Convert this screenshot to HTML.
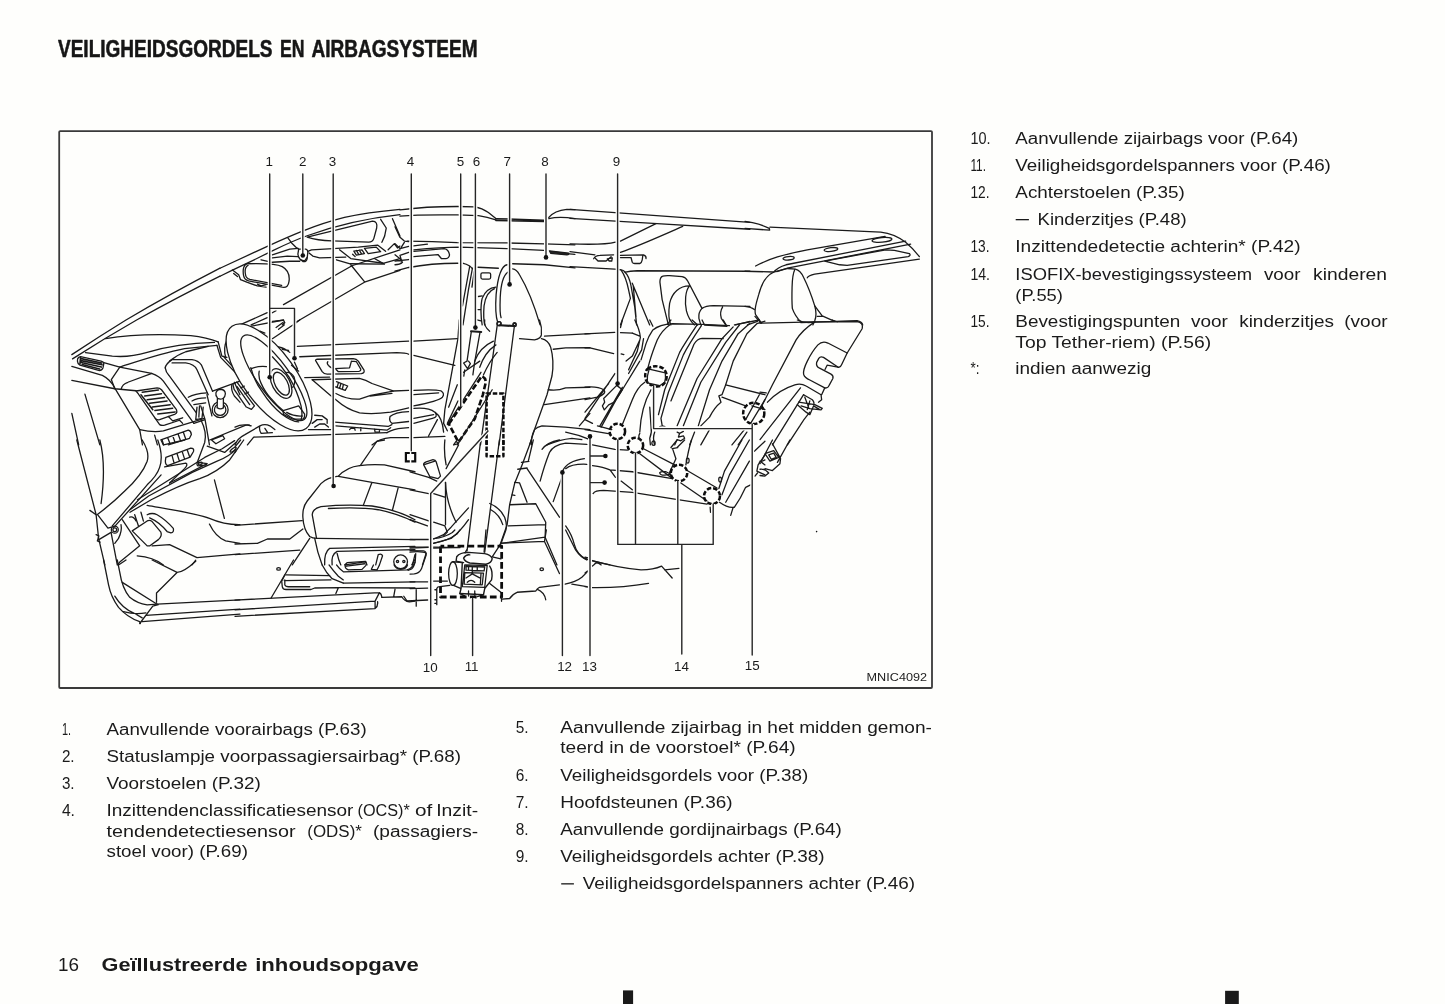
<!DOCTYPE html>
<html><head><meta charset="utf-8"><title>Veiligheidsgordels en airbagsysteem</title>
<style>
html,body{margin:0;padding:0;background:#fefefc;}
body{width:1445px;height:1004px;overflow:hidden;position:relative;font-family:"Liberation Sans",sans-serif;}
svg{position:absolute;left:0;top:0;display:block;will-change:transform}
text{font-family:"Liberation Sans",sans-serif;fill:#1a1a1a}
.b{font-size:15.8px}
.h{font-size:23.3px;font-weight:bold;fill:#161616;stroke:#161616;stroke-width:0.55px;stroke-linejoin:round}
.f{font-size:18.8px}
.fb{font-size:18.8px;font-weight:bold}
.n{font-size:13.4px;fill:#222}
.m{font-size:10.3px;fill:#222}
.d path,.d line,.d polyline,.d circle,.d ellipse,.d rect{fill:none;stroke:#1a1a1a;stroke-width:1.3;stroke-linecap:round;stroke-linejoin:round;vector-effect:non-scaling-stroke}
.d .k path{stroke-width:1.4;stroke:#262626}
.d .dash{stroke-width:2.5;stroke-dasharray:4.5 1.9;stroke-linecap:butt;stroke:#0c0c0c}
.d .dot{fill:#111;stroke:none}
.d .halo path{stroke:#fefefc;stroke-width:4;stroke-linecap:butt}
.d .w{fill:#fefefc}
</style></head><body>
<svg width="1445" height="1004" viewBox="0 0 1445 1004">
<rect x="59.2" y="131.1" width="872.8" height="556.9" rx="1" fill="none" stroke="#3a3a3a" stroke-width="1.8"/>
<rect x="623" y="990.4" width="10.1" height="14" fill="#1a1a1a"/><rect x="1225.1" y="990.8" width="13.7" height="14" fill="#1a1a1a"/>
<rect x="561.2" y="883.2" width="12.7" height="1.3" fill="#1a1a1a"/><rect x="1015.7" y="219" width="13.2" height="1.3" fill="#1a1a1a"/>
<g class="d">
<!-- 10_T1.svg -->
<g transform="translate(220,200) scale(0.12453)">
<path d="M0,548 L380,372 C560,290 760,200 1000,140 C1150,105 1300,88 1445,75"/>
<path d="M0,612 L100,563 L300,468 L420,408 C520,360 620,315 700,287 C900,215 1150,150 1445,118"/>
<path d="M420,440 L560,395 L628,388"/>
<path d="M420,465 L540,450 L625,455"/>
<path d="M330,480 L420,500 L560,492 L640,492"/>
<path d="M545,305 L575,345 L610,380 L632,395"/>
<path d="M632,395 L690,395 Q706,400 705,420 L700,470 Q695,497 668,495 L640,472 Q625,455 626,430 Z"/>
<path d="M645,480 L680,488 L698,462"/>
<path d="M705,412 L735,400 L1110,378 L1265,362 L1330,412"/>
<path d="M715,425 L745,450 L800,465 L1010,458"/>
<path d="M700,298 L1225,170 Q1268,172 1258,225 L1235,310 Q1225,338 1195,338 L900,328 Q780,325 700,298"/>
<path d="M1290,155 L1335,225 L1322,290 L1300,340"/>
<path d="M1385,150 L1445,290"/>
<path d="M1350,400 L1400,350 L1425,385 L1445,370"/>
<path d="M960,400 L1050,470 L1310,508 L1445,470"/>
<path d="M1160,388 L1255,378 L1290,415 L1190,430 Z"/>
<path d="M1075,410 L1140,400 L1160,430 L1095,442 Z M1095,405 L1115,438 M1118,402 L1138,434 M1065,435 L1085,455"/>
<path d="M935,480 L1045,512 L1320,515 L1240,470"/>
<path d="M510,840 L1060,528 L1445,400"/>
<path d="M1050,520 L1160,655"/>
<path d="M615,978 L1160,660 L1445,565"/>
<path d="M160,1003 L380,905 M250,1003 L380,945 M420,905 L450,888 M420,975 L510,965 L520,985 L500,1003"/>
<path d="M215,512 C190,520 180,560 190,610 C195,635 210,645 230,650 L500,700 C535,705 550,690 555,650 C560,600 545,560 500,535 C470,520 430,508 215,512"/>
<path d="M225,525 C205,535 198,565 205,600 C208,625 220,632 240,638 L495,685"/>
<path d="M100,562 L150,600 L165,640 L215,660 L300,690 L370,700 M110,590 L140,615 M300,675 L330,690 L370,680"/>
</g>
<path d="M71.8,354.6 Q100,336 126,320 Q170,294 220,268.2"/>
<path d="M72.5,358.9 Q105,338 136.6,320 Q180,296 220,276.2"/>
<!-- 11_T2.svg -->
<g transform="translate(395,200) scale(0.12453)">
<path d="M40,80 C150,65 350,52 500,52 L640,55 Q700,65 750,100 L810,148"/>
<path d="M810,150 L1195,162 M810,165 L1195,172" style="stroke-width:1.5"/>
<path d="M40,130 C150,120 350,118 500,120 L670,125 Q740,135 810,160"/>
<path d="M1235,140 Q1280,85 1380,75 L1445,78 M1235,150 Q1320,130 1445,150"/>
<path d="M100,330 L300,335 L500,342 L900,345 L1200,352 L1445,360"/>
<path d="M150,368 L260,355 M150,400 C300,385 400,378 520,378 L900,390 L1195,405"/>
<path d="M1240,408 L1395,426 Q1402,438 1380,441 L1250,428 Z" style="fill:#222"/>
<path d="M1400,432 L1445,436"/>
<path d="M150,412 L395,390 Q430,395 438,440 Q435,468 410,470 L372,470 L345,438 L150,455"/>
<path d="M0,215 L40,300 L75,330 L110,335 M75,340 L50,380 M0,350 L40,390 L110,372 M0,440 L50,480 L40,445 L110,420 M0,520 Q40,520 60,500 L40,470 M0,490 L110,478"/>
<path d="M0,572 L110,542 C250,515 400,508 505,508 M548,508 Q600,520 620,550"/>
<path d="M600,532 L542,850 M622,548 L590,720 L546,1003 M636,575 L618,700"/>
<path d="M665,540 L830,548"/>
<rect x="690" y="585" width="78" height="50" rx="12"/>
<path d="M945,553 Q975,555 1000,600 C1060,700 1120,850 1165,1003"/>
<path d="M900,520 C850,530 825,620 812,760 C805,860 810,940 825,985"/>
<path d="M905,580 C865,610 850,680 845,780 C842,860 842,920 852,945"/>
<path d="M945,512 L1200,520 L1445,545"/>
<path d="M810,700 C760,705 720,740 700,790 C685,850 690,950 700,1003 M800,712 C750,730 725,780 715,850 C710,920 715,980 720,1003 M670,775 L700,770 M665,880 L690,880 M650,960 L690,970"/>
<circle cx="835" cy="992" r="15"/><circle cx="960" cy="996" r="12"/>
</g>
<!-- 12_T3.svg -->
<g transform="translate(570,200) scale(0.12453)">
<path d="M0,75 L1445,180"/>
<path d="M0,148 L700,190 L1445,235"/>
<path d="M690,190 L405,330 M905,212 C750,280 550,370 405,420"/>
<path d="M0,352 C150,358 300,356 365,338"/>
<path d="M0,415 L200,440"/>
<path d="M190,472 Q205,445 240,445 L350,440 M205,470 L225,490 L290,490 L330,455 M300,472 L340,465 L335,490 L315,490 Z"/>
<path d="M405,445 L590,440 Q615,450 610,470 M405,462 L490,462 L500,500 Q505,510 520,510 L560,510 Q575,505 580,480 L585,445"/>
<path d="M0,535 L360,555 L405,560 Q430,565 445,580 Q480,570 540,568 L1445,572"/>
<path d="M412,565 Q450,620 470,720 L485,790 L405,1003 M440,578 Q475,610 490,690 L520,860 L535,1003 M500,668 L640,1003 M508,690 L530,940"/>
<path d="M790,1003 L740,800 L722,660 Q722,620 745,612 Q760,605 800,607 L900,615 Q930,620 945,650 L1060,870"/>
<path d="M960,690 C880,690 820,740 800,830 C790,900 790,960 810,1003 M960,690 C925,730 920,820 935,890 C950,950 980,985 1000,1003"/>
<path d="M1050,1003 L1035,950 Q1030,900 1060,870 Q1090,850 1150,848 L1445,855 M1225,860 Q1200,900 1215,950 L1250,1003 M1330,1003 L1445,975"/>
</g>
<!-- 13_T4.svg -->
<g transform="translate(745,200) scale(0.12453)">
<path d="M0,172 L60,182 Q140,200 195,228 L198,242 L0,228"/>
<path d="M200,218 L1090,258 Q1200,270 1290,340 Q1350,390 1400,455"/>
<path d="M85,530 C200,470 300,440 500,400 L1125,292"/>
<path d="M230,580 Q260,540 330,520 L1290,330"/>
<path d="M255,575 L350,545 L1330,355"/>
<ellipse cx="350" cy="468" rx="45" ry="14" transform="rotate(-5 350 468)"/>
<ellipse cx="690" cy="398" rx="55" ry="15" transform="rotate(-6 690 398)"/>
<ellipse cx="1100" cy="320" rx="80" ry="19" transform="rotate(-5 1100 320)"/>
<path d="M640,490 L1130,400 L1200,405 L1320,430 Q1335,445 1310,455 L820,525 L760,520 Z"/>
<path d="M500,625 Q510,605 560,595 L1400,475"/>
<path d="M0,572 L225,578"/>
<path d="M130,985 L85,920 C70,880 90,830 110,760 C130,680 160,610 230,580 L340,550 L405,555 Q445,565 470,620 Q520,720 560,850 Q580,920 560,970 L545,1003"/>
<path d="M400,558 Q380,600 378,700 Q375,800 380,870 Q400,930 450,980"/>
<path d="M560,850 L620,930 L720,975 M580,935 L620,935"/>
<path d="M0,855 Q50,860 75,880 M80,935 L130,990 M450,985 L900,968 Q940,975 945,1003 M20,1003 L100,975"/>
</g>
<!-- 14_T5.svg -->
<g transform="translate(60,320) scale(0.12453)">
<path d="M365,150 C550,118 800,110 1050,125 Q1180,140 1270,175"/>
<path d="M205,262 L420,290 C520,300 600,290 700,260 C850,215 1050,185 1240,180"/>
<path d="M480,378 C600,340 800,270 1000,230 L1260,203"/>
<path d="M150,300 Q138,308 140,330 Q142,355 160,362 L310,405 Q335,408 345,385 L352,350 Q350,335 330,330 L165,295 Z"/>
<path d="M170,310 L335,345 M168,326 L338,360 M170,342 L332,378 M178,358 L318,393 M165,300 L160,355" style="stroke-width:1.6"/>
<path d="M352,342 L480,378 L412,478 L440,552"/>
<path d="M480,378 L735,428 Q800,450 830,490 L1075,830"/>
<path d="M95,372 L340,445 Q410,480 445,555 L640,880 L662,1003"/>
<path d="M95,485 L440,552 L610,568"/>
<path d="M492,552 Q500,515 545,500 L738,428"/>
<path d="M610,570 L780,545 Q800,545 815,560 L935,720 Q945,745 925,755 L800,800 Q780,805 765,790 L640,610 Q625,585 610,570"/>
<path d="M660,580 L790,562 M680,610 L815,592 M700,640 L840,622 M720,668 L860,650 M742,698 L885,680 M762,726 L905,708 M785,755 L925,738 M650,600 L745,720" style="stroke-width:1.5"/>
<path d="M765,790 L800,840 Q815,850 840,845 L960,805 L985,830 M870,775 L905,810 L985,785"/>
<path d="M95,750 L150,1003 M200,595 L320,1003"/>
<path d="M640,880 Q750,905 830,890 L1160,790 M760,925 L782,1003"/>
<path d="M830,1003 L810,962 L1030,885 Q1052,890 1055,920 L1040,950 L870,1003 M865,945 L885,998 M905,930 L925,985 M948,916 L968,970 M990,900 L1010,958"/>
<path d="M845,385 Q850,350 900,318 L1060,318 Q1110,325 1135,360 L1225,572"/>
<path d="M845,385 Q850,420 875,445 L1095,745"/>
<path d="M900,345 L1010,345 Q1080,355 1100,400 L1190,600"/>
<path d="M880,330 Q940,280 1010,255 L1190,212"/>
<path d="M1030,620 Q1080,590 1180,585 M1060,650 Q1100,625 1170,625 M1075,680 L1170,665 M1100,700 L1090,800 L1140,790 L1150,700 M1120,690 L1115,780"/>
<path d="M1075,830 L1165,800 L1130,690 M1165,800 L1200,1003"/>
<circle cx="1286" cy="720" r="64"/><circle cx="1286" cy="720" r="46"/>
<path d="M1262,705 L1264,625 Q1248,608 1252,585 Q1262,556 1292,556 Q1326,560 1328,592 Q1326,615 1312,628 L1312,705" class="w"/>
<path d="M1264,705 Q1288,722 1312,705 M1270,632 Q1290,640 1308,630"/>
<path d="M1180,600 L1220,770 M1225,572 L1445,490"/>
<path d="M1270,175 L1300,290 L1340,300 M1260,203 L1290,300 L1445,460 M1310,290 L1445,440"/>
<path d="M1340,160 Q1360,80 1445,45 M1330,300 Q1310,220 1340,160"/>

<path d="M1380,520 Q1370,560 1400,610 L1445,660 M1400,500 L1445,600"/>
</g>
<!-- 15_T6.svg -->
<g transform="translate(235,320) scale(0.12453)">
<!-- upper lines -->
<path d="M130,50 L390,0 M300,150 L480,30 L520,0 M200,90 L240,105 M330,60 L385,20 L395,40 L350,75"/>
<path d="M500,212 L1395,170"/>
<path d="M350,215 Q400,225 440,260 M380,235 L430,245"/>
<path d="M520,295 L1300,262 Q1370,262 1395,275"/>
<path d="M650,330 Q640,320 660,315 L950,310 Q975,312 990,330 L1035,400 Q1045,425 1015,430 L740,435 Q715,435 700,415 Z"/>
<path d="M745,335 Q735,345 750,365 Q770,390 800,390 L920,385 L935,330 M935,330 L975,335 L1010,395 Q1012,410 995,412 L830,415 L810,395"/>
<path d="M560,462 L760,458 M620,480 L1000,468 Q1050,478 1100,510 L1270,570 L1395,565"/>
<path d="M620,480 L760,600 L810,640 Q900,720 1000,745 Q1100,760 1250,740 L1395,705"/>
<path d="M810,590 Q900,640 1000,635 L1090,605 L1270,572 M1085,612 L1260,590"/>
<path d="M815,495 L905,530 L885,565 L800,535 M830,505 L820,540 M850,512 L840,548 M870,520 L862,556"/>
<path d="M640,765 L700,770 L740,800 L740,830 M620,830 L660,800 L700,800 M640,860 L680,835 L720,835 L750,860"/>
<path d="M800,820 L1230,855 L1260,840 M810,850 L1220,885 L1250,865 M920,880 L930,870 L960,870 L965,885 M1010,865 L1010,890 M1120,875 L1125,900 L1160,900 L1160,880"/>
<path d="M1395,735 Q1280,740 1245,775 Q1235,810 1260,830 L1395,815 M1395,865 Q1300,870 1250,890 L1220,905"/>
<path d="M1100,1003 Q1160,950 1250,945 L1395,945"/>
<path d="M350,935 L1220,905 M590,880 L770,880"/>
<path d="M0,860 Q60,830 130,850 M0,1003 Q20,950 80,920 L200,850 Q240,830 280,850 L320,880 M200,850 Q190,880 210,910 L300,905 M240,870 L260,900 M100,1003 L150,940 L350,935"/>
</g>
<!-- 15b_wheel.svg -->
<g transform="translate(215,315) scale(0.11952)">
<ellipse cx="452" cy="522" rx="528" ry="222" transform="rotate(54 452 522)" class="w"/>
<ellipse cx="492" cy="525" rx="432" ry="134" transform="rotate(54 492 525)"/>
<path d="M300,440 Q330,560 400,650 Q470,760 560,830 Q640,890 700,895"/>
<path d="M480,350 Q560,430 620,520 Q690,640 720,760 Q735,830 720,880"/>
<ellipse cx="555" cy="575" rx="105" ry="52" transform="rotate(62 555 575)"/>
<ellipse cx="553" cy="573" rx="135" ry="74" transform="rotate(62 553 573)"/>
<path d="M300,450 Q360,425 430,432 M370,470 Q360,520 385,570 Q420,650 470,700 Q520,760 570,800"/>
<path d="M600,480 Q640,478 662,520 Q678,565 650,605"/>
<path d="M570,800 L700,760 L750,830 Q752,862 735,872 L650,872 L572,832 Z M600,815 Q660,850 730,845"/>
<path d="M150,580 L182,560 L300,720 L330,760 L305,790 L262,770 L160,622 Z M185,600 L290,750 M215,610 L245,595 M250,660 L280,645"/>
<path d="M640,420 L700,470 M665,395 L690,450"/>
</g>
<!-- 16_T7.svg -->
<g transform="translate(410,320) scale(0.12453)">
<path d="M30,170 L380,150 M30,285 L360,365"/>
<path d="M395,0 L385,150 L330,450 L280,720 L270,830 L300,890 M380,520 L310,700 M385,650 L300,830"/>
<path d="M490,90 L572,96" style="stroke-width:2"/>
<path d="M492,95 L458,330 L430,345 L462,390 L485,350 L470,330 M562,100 L520,335 M440,400 L432,450"/>
<path d="M600,0 Q590,50 640,90 M670,170 Q560,220 520,330 L505,440 M690,200 Q600,260 560,380 M700,260 Q640,330 590,440"/>
<path d="M700,45 L566,1003 M838,50 L715,1003"/><path d="M722,42 L832,48" style="stroke-width:2.2"/>
<circle cx="715" cy="30" r="17"/><circle cx="840" cy="40" r="14"/>
<path d="M1040,0 Q1062,60 1055,120 Q1050,152 1000,160 L880,150"/>
<path d="M1055,150 Q1110,160 1130,220 Q1160,330 1140,450 L1100,600 L1000,880 L960,1003"/>
<path d="M1080,130 L1445,110 M1150,235 L1250,224 L1445,223 M1110,560 Q1180,572 1250,545 L1445,540 M1080,680 L1445,625 M1445,750 L1360,850"/>
<path d="M1000,880 Q1020,860 1060,850 L1250,860 L1445,880 M1000,880 Q970,940 975,1003 M1250,900 Q1350,920 1445,960 M1100,1003 Q1200,960 1300,950 L1380,960"/>
<path class="dash" style="stroke-dasharray:6 2.4;stroke-width:2.6" d="M312,835 L577,450 Q606,462 609,498 L585,601 L520,793 L389,981 Z"/>
<path class="dash" d="M615,1003 L615,590 L750,590 L750,1003"/>
<path d="M380,1003 L660,560 M430,420 L560,330 M300,840 L570,420"/>
<path d="M30,565 Q200,555 250,570 Q282,590 260,620 Q230,650 30,690 M30,600 L230,585"/>
<path d="M30,710 Q150,700 200,740 Q230,780 180,790 L30,830 M30,790 L190,760 M200,740 Q260,780 270,900 M30,945 L280,935 M150,930 L220,800"/>
</g>
<!-- 17_T8.svg -->
<g transform="translate(585,320) scale(0.12453)">
<path d="M1160,45 L940,35 L700,30 Q600,35 545,80 Q510,130 490,190 L450,320"/>
<path d="M680,40 Q620,80 580,160 Q540,260 520,330 L505,385"/>
<path d="M900,40 Q800,190 760,260 L640,560 L590,760"/>
<path d="M935,45 Q830,200 790,280 L670,580 L610,790 L620,850 L642,856 M600,856 L625,850"/>
<path d="M1190,55 L1100,150 L900,470 L740,850"/>
<path d="M1240,40 L1130,180 L930,500 L790,850"/>
<path d="M1320,30 L1230,110 L1100,330 L1000,560 L910,850"/>
<path d="M1445,10 L1380,30 L1300,110 L1190,330 L1130,520"/>
<path d="M1110,150 L940,147 Q900,150 875,195 L690,650"/>
<path d="M1130,520 L1100,600 L1075,610 L1092,660 Q1040,700 1000,780 L930,850 M1130,520 L1445,600 M1100,620 L1290,690"/>
<path d="M690,0 L660,35 M860,0 L905,40 M940,0 L960,40 L1140,50 L1110,0 M1200,40 L1400,0"/>
<path class="dash" d="M500,395 Q560,350 630,390 Q668,430 650,490 Q620,545 560,532 Q500,520 485,470 Q478,420 500,395 Z"/>
<path d="M515,395 L645,425 Q650,470 640,500 L600,528 L500,505 Q495,450 515,395"/>
<circle class="dash" cx="1355" cy="750" r="85"/>
<circle class="dash" cx="260" cy="895" r="62"/>
<circle class="dash" cx="405" cy="1008" r="62"/>
<path d="M1445,640 L1330,830 M1400,600 L1290,800 M1340,690 L1445,720"/>
<path d="M0,112 L240,99 M285,102 L380,105 M0,223 L40,224 L230,270 M290,272 L312,278"/>
<path d="M300,0 L285,60 M400,0 Q440,80 445,140 L420,250 L350,400 M520,0 L545,50 M380,105 L440,130 M440,160 L380,290 L330,330 M470,150 L455,240 L350,430"/>
<path d="M440,330 L300,560 L250,640 L130,860 M480,500 Q420,540 380,640 L300,840 M300,540 L120,850 M240,430 L0,790 M190,510 L0,740 M530,560 Q450,700 440,900"/>
<path d="M150,630 L255,525 L300,560 L235,660 L190,682 L155,722 L140,690 L158,660 Z M235,660 L290,575"/>
<path d="M0,540 Q100,530 150,560 Q180,590 100,620 L0,640"/>
<path d="M0,880 L200,915 M100,850 L215,880 M0,800 L60,830"/>
<path d="M520,700 L530,850 Q540,900 520,950 L525,1003 M440,910 Q420,940 450,970"/>
<path d="M740,900 L760,910 L750,940 L790,930 L800,950 L770,970 L740,960 L720,1003 M760,910 L790,895"/>
<path d="M560,900 Q540,950 560,1003 M880,900 L840,1003 M1000,880 L930,1003 M1280,880 L1180,1003 M1300,900 L1230,1003"/>
</g>
<!-- 18_T9.svg -->
<g transform="translate(760,320) scale(0.12453)">
<path d="M0,25 L440,15 L780,12 Q832,20 820,70 L700,265"/>
<path d="M440,15 Q340,80 290,160 Q200,330 100,520 L0,720"/>
<path d="M700,265 L545,185 Q500,165 465,200 Q420,250 380,330 Q345,400 350,435 Q360,465 400,482 L520,545 Q545,550 555,525 L585,470 Q592,448 570,435 L475,385 Q448,370 455,340 L472,308 Q485,288 510,300 L625,378 Q645,385 655,360 Z"/>
<path d="M540,362 L625,378 M540,362 L522,398"/>
<path d="M60,660 Q150,560 280,520 Q330,505 370,530 L490,600 L495,640 L470,660 M520,545 L495,600 M0,580 L50,586"/>
<path d="M325,545 L0,960 M350,600 L300,680 L100,1003 M400,740 Q350,800 320,850 L220,1003"/>
<path d="M350,600 L420,640 Q440,660 430,690 L400,760 L370,740 L300,680 M310,660 L440,680 L500,710 L490,722 L400,712 L330,690 M360,620 L390,700 M400,650 L380,720 M430,690 L480,720"/>
<path d="M300,0 Q360,30 440,15 M580,0 L620,14"/>
</g>
<!-- 19_T10.svg -->
<g transform="translate(60,440) scale(0.12453)">
<path d="M135,0 L290,600 L310,790 L360,1003 M320,0 Q372,200 330,510"/>
<path d="M240,565 L290,600 M290,760 L312,770 L300,810 L322,820 M312,800 L410,742"/>
<path d="M660,0 Q722,100 700,170 Q660,280 520,410 Q420,510 300,598 L385,708 L420,698"/>
<path d="M785,0 Q832,130 800,220 Q780,285 700,360 L420,690 M812,280 L432,702"/>
<path d="M850,140 L1050,65 Q1080,66 1072,92 L1045,138 L865,205 Q838,200 850,140 M900,125 L915,182 M940,110 L958,168 M982,95 L1000,152 M1022,80 L1040,132"/>
<path d="M840,215 L1010,185 Q1032,195 1000,230 L880,345 M820,0 L832,40 L1000,0"/>
<path d="M1132,-160 Q1182,-60 1162,20 L1102,180"/>
<path d="M880,345 L1182,190 M1107,180 Q1092,192 1107,208 L1172,202 L1182,190 Z"/>
<path d="M562,560 L712,450 L1062,260 L1262,170 Q1362,130 1412,75 M562,580 L732,480 Q962,360 1122,310 Q1262,260 1362,160 L1412,90 M622,480 L1162,140 L1302,70 L1402,5"/>
<path d="M1202,0 L1492,-120 Q1522,-125 1527,-115 M1217,0 L1307,-35 L1322,-10 L1252,30 Z M1182,50 L1322,100 L1412,20"/>
<ellipse cx="1390" cy="78" rx="30" ry="10" transform="rotate(-38 1390 78)"/>
<ellipse cx="1127" cy="189" rx="16" ry="9" transform="rotate(-20 1127 189)"/>
<path d="M700,525 C900,560 1100,590 1200,630 Q1320,682 1445,680"/>
<path d="M1240,320 L1320,630 M1200,675 Q1250,780 1330,810 L1445,830"/>
<path d="M580,730 L700,650 Q720,640 740,655 L810,740 Q822,770 790,800 L722,850 L700,850 Z"/>
<path d="M600,600 L630,690 M650,580 L670,652 M560,620 Q590,610 610,650"/>
<path d="M700,600 Q740,580 780,600 Q850,640 910,710 Q918,742 890,746 L860,735 Q800,660 720,625"/>
<circle cx="440" cy="720" r="28"/><circle cx="440" cy="720" r="15"/>
<path d="M410,742 L460,1003 M490,680 Q500,730 470,790 L440,830 M500,640 L640,850 L480,980 L462,1003"/>
<path d="M740,850 L880,840 L1100,945 L1445,915 M620,930 Q750,940 830,1003 M1090,965 L1060,1003"/>
</g>
<!-- 20_T11.svg -->
<g transform="translate(235,440) scale(0.12453)">
<path d="M1000,205 Q900,215 830,290 Q740,300 690,350 L580,490 Q540,540 545,620 Q550,720 600,775 Q620,790 660,790 L1445,800"/>
<path d="M1000,205 Q1100,192 1200,200 L1445,255 M830,292 L1100,340 L1445,400 M1100,340 L1030,525 M1310,385 L1265,560"/>
<path d="M655,790 L620,600 Q625,550 690,535 Q900,515 1100,530 Q1300,560 1445,640 M750,550 Q1000,535 1150,560 Q1300,590 1445,660"/>
<path d="M1010,200 L1140,10 L1200,0"/>
<path d="M640,790 Q660,900 700,1003 M720,1003 Q715,900 760,870 L1445,855 M780,1003 Q770,920 820,895 L1445,880"/>
<path d="M820,910 Q830,960 850,1003 M1130,1003 L1150,920 Q1180,910 1185,930 L1160,1003 M880,1003 L900,985 L1050,975 L1060,1003 M1420,1003 L1445,960"/>
<circle cx="1330" cy="978" r="55"/><circle cx="1305" cy="975" r="9"/><circle cx="1356" cy="975" r="9"/>
<path d="M0,685 L540,648 M0,835 L180,830 L260,795 L440,795 L545,715 M0,920 L520,885 M600,790 L460,1003"/>
<path d="M0,100 L70,0 M0,55 L45,0"/>
</g>
<path d="M409.8,453 H405.9 V461.3 H409.8 M411.3,453 H415.2 V461.3 H411.3" style="stroke-width:2.2;stroke-linecap:butt;stroke-linejoin:miter;stroke:#0c0c0c"/>
<!-- 21_T12.svg -->
<g transform="translate(410,440) scale(0.12453)">
<path d="M568,0 L458,890 M718,0 L600,900"/>
<path d="M975,0 L900,200 L840,350 L800,520 L780,680 L720,850"/>
<path d="M990,0 L950,170 M895,180 L955,172 M865,235 L940,225"/>
<path d="M280,0 Q270,100 290,200 M285,340 Q290,500 370,660 M640,510 Q720,540 760,620 Q782,680 770,720 M650,560 Q720,600 745,680"/>
<path d="M470,545 L330,700 Q290,740 270,760 L190,795 M470,640 Q400,740 330,790 L190,830"/>
<path d="M0,255 L150,300 L215,330 M110,200 Q105,185 130,175 L185,158 Q205,158 210,175 L245,290 L225,310 L160,295 Z M120,195 L200,170"/>
<path d="M0,400 L150,430 M190,430 L285,460 M0,600 L150,650 M190,660 L280,690 L300,740 L270,770 M0,640 L140,690 M285,340 L285,680 M0,800 L150,800 M0,860 L150,860 M190,860 L400,865"/>
<path d="M370,10 L350,40 L390,30 Z M390,40 L290,230"/>
<path d="M0,900 Q100,890 130,910 L100,1003 M40,920 L20,1003"/>
<path d="M800,520 L1010,512 L1090,660 L1085,780 L730,830 M790,690 L1090,680 M1085,780 L1180,1003 M940,230 L1200,620 M880,345 L940,500 M840,340 L880,345 M820,440 L842,445"/>
<path d="M1060,75 Q1100,20 1200,0 M1045,330 Q1080,200 1120,100 Q1150,40 1250,25 L1420,35 M1150,495 L1220,300 M1225,250 Q1260,170 1400,150 M1250,230 Q1300,190 1420,195 M1250,690 Q1300,760 1320,840 Q1340,920 1420,960"/>
<path class="dash" d="M615,0 L615,130 L750,130 L750,0"/>
</g>
<!-- 22_T13.svg -->
<g transform="translate(585,440) scale(0.12453)">
<path d="M60,40 L240,75 L340,82 M60,205 Q150,215 200,240 L380,255 L700,310 M205,245 L245,300 M290,330 L380,400"/>
<path d="M65,430 Q80,405 150,405 L380,420 L720,475 L980,515"/>
<path d="M470,70 L720,200 M440,110 L690,300 M820,245 L1060,385 M770,345 L980,490"/>
<ellipse cx="550" cy="25" rx="13" ry="18"/><ellipse cx="825" cy="165" rx="11" ry="20"/><ellipse cx="1085" cy="318" rx="11" ry="20"/>
<path d="M690,60 L740,0 M705,75 L730,150 L680,260 M740,60 L800,0 M700,70 L745,62"/>
<path d="M855,0 Q830,80 810,200 M600,262 Q610,250 650,255 L690,275 L640,282 Q600,282 600,262"/>
<path d="M1260,0 L1120,250 L1075,390 M1320,0 L1160,280 L1100,440 M1320,170 L1130,500 M1330,360 L1290,380 Q1250,470 1200,540 Q1150,550 1080,500 M1190,540 L1170,605 M1005,540 L1008,580"/>
<path d="M1445,10 L1360,90 M1445,120 L1390,200 L1380,250 L1445,280 M1400,180 L1445,160 M1365,290 L1385,265"/>
<path d="M0,940 L40,950 M60,970 L200,1003 M80,990 Q100,980 130,1003"/>
<circle class="dash" cx="755" cy="265" r="66"/>
<circle class="dash" cx="1020" cy="450" r="64"/>
</g>
<!-- 23_T14.svg -->
<g transform="translate(760,440) scale(0.12453)">
<path d="M100,0 L0,190 M240,0 L140,180 M100,30 L165,150 L160,190 L100,245 L40,230 M40,110 L110,85 L150,140 L80,170 Z M70,120 L110,105 L130,140 L90,155 Z M0,235 Q40,230 70,265 L40,290 L0,285 M0,170 L40,200"/>
</g>
<!-- 24_T15.svg -->
<g transform="translate(60,560) scale(0.12453)">
<path d="M350,0 L390,200 Q410,300 470,380 Q540,460 640,495 L645,510"/>
<path d="M460,0 L480,100 Q500,230 560,300 Q620,350 700,360 L780,355"/>
<path d="M470,40 L530,0 M440,290 Q500,390 600,430 L660,465 M510,415 Q600,440 690,425"/>
<path d="M500,180 L780,355 M775,340 L775,265 L940,100 L740,0 M940,100 Q990,100 1090,10"/>
<path d="M780,355 L1445,320 M745,370 L640,510 M690,445 L1445,395 M660,495 L1445,435 M745,370 L790,358"/>
</g>
<!-- 25_T16.svg -->
<g transform="translate(235,560) scale(0.12453)">
<path d="M0,322 L1160,262 Q1175,270 1180,300 M0,400 L1125,330 M0,452 L1125,390 L1125,330 L1160,262 M1125,390 Q1150,370 1145,335"/>
<path d="M470,0 L290,305"/>
<ellipse cx="350" cy="72" rx="15" ry="10"/>
<path d="M410,120 L760,125 M400,120 L375,170 L380,215 Q385,237 410,237 L610,237 L640,225 L830,222 L810,270 M400,160 L400,200 Q405,215 430,215 L600,215 M395,165 L770,160"/>
<path d="M830,222 L1445,225 M870,185 L1445,175 M1285,235 L1275,290 M1180,300 L1340,295 Q1360,332 1400,336 L1445,330"/>
<path d="M700,40 Q730,100 780,150 L870,185 M755,40 Q790,90 830,130 L870,160 M815,40 Q840,75 870,95 L1380,80 Q1420,70 1445,20"/>
<path d="M885,40 L1040,15 Q1062,20 1050,45 L1020,75 L910,80 Q880,70 885,40 M895,50 L1040,30 M1095,75 L1112,40 M1140,80 L1160,40 M1095,75 L1140,80"/>
<path d="M1278,40 Q1290,70 1330,75 Q1375,72 1385,40"/>
</g>
<!-- 26_T17.svg -->
<g transform="translate(410,530) scale(0.12453)">
<path d="M455,160 L442,185 M610,0 L595,178 M770,0 L730,110 L660,215 L730,232"/>
<path d="M375,215 Q400,180 470,180 L600,190 Q650,200 660,230 Q655,265 610,275 L480,265 Q440,255 430,225 Q450,195 480,200 M375,215 L370,250 L430,262" style="stroke-width:1.4"/>
<ellipse cx="345" cy="350" rx="35" ry="95"/>
<path d="M345,255 L420,262 M350,445 L410,470 M420,260 L410,470 L400,510 L440,530 M640,290 Q668,330 655,400 L600,470 L590,520 L540,535" style="stroke-width:1.4"/>
<path d="M440,280 L620,285 L600,460 L420,455 Z M450,292 L600,297 L595,328 L450,323 Z M440,342 L590,347 L580,440 L435,435 Z M460,420 Q490,390 520,420 M450,385 L500,352 L560,385 M500,352 L500,300 M470,300 L470,320 M540,300 L540,322 M570,350 L565,435" style="stroke-width:1.3"/>
<path d="M470,490 L470,530 M520,490 L520,530 M640,430 L730,500 M400,510 L590,520"/>
<path class="dash" d="M245,130 H736 V538 H245 Z" style="stroke-width:2.8;stroke-dasharray:6.7 3.3;stroke-dashoffset:3"/>
<path d="M190,410 L300,410 M240,455 L320,445 M215,600 L215,470 Q220,455 240,455 M200,480 L215,480 M200,560 L215,560 M200,590 L215,590"/>
<path d="M0,75 L150,75 M0,145 L150,140 M190,70 Q280,60 340,20 L360,0 M190,105 Q300,90 380,30 L400,0 M190,145 L400,140"/>
<path d="M0,166 L108,167 Q132,170 129,203 L92,312 Q75,350 34,353 L0,354 M46,190 L42,253 Q30,300 13,312 L-16,324 M0,416 L142,416 M0,470 L142,466 M-50,532 L-25,570 L142,562 M50,478 L50,612"/>
<path d="M740,105 L1080,92 L1095,0 M1080,92 L1200,350 M1250,0 Q1300,100 1330,160 Q1370,220 1420,240 M1245,435 Q1330,420 1380,380 L1420,340 M1300,435 L1420,455"/>
<path d="M740,555 L800,550 Q830,510 860,500 L1010,490 Q1020,470 1040,460 L1200,440 M1020,475 Q1080,500 1090,560 M735,540 L735,572"/>
<ellipse cx="1058" cy="315" rx="14" ry="11"/>
</g>
<!-- 27_T18.svg -->
<g transform="translate(585,530) scale(0.12453)">
<path d="M0,225 L20,235 L60,245 Q250,300 450,320 Q550,320 615,290 L700,385 M640,320 L755,308 M60,290 L95,260 M0,345 L20,330 M0,455 L60,462 Q300,465 510,428"/>
</g>
<!-- 90_leaders.svg -->
<g class="halo">
<path d="M269.7,174 V377 M269.7,308.4 H294.5 V358"/>
<path d="M302.8,174 V255"/>
<path d="M333.2,174 V485"/>
<path d="M411.3,174 V450.7"/>
<path d="M460.7,174 V406.5"/>
<path d="M475.4,174 V327"/>
<path d="M509.6,174 V284"/>
<path d="M546,174 V257"/>
<path d="M617.6,174 V383"/>
<path d="M430.7,655.6 V493.5 L488,431"/>
<path d="M472.6,598 V655.6"/>
<path d="M562.4,472.4 V655.6"/>
<path d="M590,436.4 V655.6 M590,456 H605 M590,482.6 H604.6"/>
<path d="M681.8,544.4 V654 M617.8,440 V544.4 H713.2 V504 M635.5,453 V544.4 M677.8,481 V544.4"/>
<path d="M752.2,424 V655 M653.6,386 V428.6 H752.2"/>
</g>
<g class="k">
<path d="M269.7,174 V377 M269.7,308.4 H294.5 V358"/>
<path d="M302.8,174 V255"/>
<path d="M333.2,174 V485"/>
<path d="M411.3,174 V450.7"/>
<path d="M460.7,174 V406.5"/>
<path d="M475.4,174 V327"/>
<path d="M509.6,174 V284"/>
<path d="M546,174 V257"/>
<path d="M617.6,174 V383"/>
<path d="M430.7,655.6 V493.5 L488,431"/>
<path d="M472.6,598 V655.6"/>
<path d="M562.4,472.4 V655.6"/>
<path d="M590,436.4 V655.6 M590,456 H605 M590,482.6 H604.6"/>
<path d="M681.8,544.4 V654 M617.8,440 V544.4 H713.2 V504 M635.5,453 V544.4 M677.8,481 V544.4"/>
<path d="M752.2,424 V655 M653.6,386 V428.6 H752.2"/>
</g>
<circle class="dot" cx="269.7" cy="377.3" r="2.3"/>
<circle class="dot" cx="294.5" cy="358.2" r="2.3"/>
<circle class="dot" cx="302.8" cy="255.5" r="2.3"/>
<circle class="dot" cx="333.6" cy="486" r="2.3"/>
<circle class="dot" cx="475.4" cy="327.6" r="2.3"/>
<circle class="dot" cx="509.6" cy="284.4" r="2.3"/>
<circle class="dot" cx="546" cy="257.4" r="2.3"/>
<circle class="dot" cx="617.6" cy="383.6" r="2.3"/>
<circle class="dot" cx="562.4" cy="472.4" r="2.3"/>
<circle class="dot" cx="590" cy="436.4" r="2.3"/>
<circle class="dot" cx="605.4" cy="456" r="2.3"/>
<circle class="dot" cx="604.6" cy="482.6" r="2.3"/>
<circle class="dot" cx="816.6" cy="531.6" r="0.8"/>
</g>
<text class="h" x="58.0" y="56.6" textLength="214.5" lengthAdjust="spacingAndGlyphs">VEILIGHEIDSGORDELS</text>
<text class="h" x="280.0" y="56.6" textLength="24.5" lengthAdjust="spacingAndGlyphs">EN</text>
<text class="h" x="311.5" y="56.6" textLength="166.1" lengthAdjust="spacingAndGlyphs">AIRBAGSYSTEEM</text>
<text class="b" x="61.9" y="734.8" textLength="9.1" lengthAdjust="spacingAndGlyphs">1.</text>
<text class="b" x="106.5" y="734.8" textLength="260.2" lengthAdjust="spacingAndGlyphs">Aanvullende voorairbags (P.63)</text>
<text class="b" x="61.9" y="761.8" textLength="12.7" lengthAdjust="spacingAndGlyphs">2.</text>
<text class="b" x="106.5" y="761.8" textLength="354.5" lengthAdjust="spacingAndGlyphs">Statuslampje voorpassagiersairbag* (P.68)</text>
<text class="b" x="61.9" y="788.8" textLength="12.7" lengthAdjust="spacingAndGlyphs">3.</text>
<text class="b" x="106.5" y="788.8" textLength="154.3" lengthAdjust="spacingAndGlyphs">Voorstoelen (P.32)</text>
<text class="b" x="61.9" y="816.1" textLength="13.1" lengthAdjust="spacingAndGlyphs">4.</text>
<text class="b" x="106.5" y="816.1" textLength="246.9" lengthAdjust="spacingAndGlyphs">Inzittendenclassificatiesensor</text>
<text class="b" x="357.5" y="816.1" textLength="52.3" lengthAdjust="spacingAndGlyphs">(OCS)*</text>
<text class="b" x="414.9" y="816.1" textLength="17.3" lengthAdjust="spacingAndGlyphs">of</text>
<text class="b" x="436.2" y="816.1" textLength="41.9" lengthAdjust="spacingAndGlyphs">Inzit-</text>
<text class="b" x="106.5" y="836.6" textLength="189.0" lengthAdjust="spacingAndGlyphs">tendendetectiesensor</text>
<text class="b" x="307.3" y="836.6" textLength="54.6" lengthAdjust="spacingAndGlyphs">(ODS)*</text>
<text class="b" x="373.0" y="836.6" textLength="105.1" lengthAdjust="spacingAndGlyphs">(passagiers-</text>
<text class="b" x="106.5" y="857.0" textLength="141.4" lengthAdjust="spacingAndGlyphs">stoel voor) (P.69)</text>
<text class="b" x="515.7" y="732.8" textLength="12.9" lengthAdjust="spacingAndGlyphs">5.</text>
<text class="b" x="560.3" y="732.8" textLength="371.6" lengthAdjust="spacingAndGlyphs">Aanvullende zijairbag in het midden gemon-</text>
<text class="b" x="560.3" y="753.4" textLength="235.4" lengthAdjust="spacingAndGlyphs">teerd in de voorstoel* (P.64)</text>
<text class="b" x="515.7" y="780.7" textLength="12.9" lengthAdjust="spacingAndGlyphs">6.</text>
<text class="b" x="560.3" y="780.7" textLength="247.9" lengthAdjust="spacingAndGlyphs">Veiligheidsgordels voor (P.38)</text>
<text class="b" x="515.7" y="807.8" textLength="12.9" lengthAdjust="spacingAndGlyphs">7.</text>
<text class="b" x="560.3" y="807.8" textLength="172.2" lengthAdjust="spacingAndGlyphs">Hoofdsteunen (P.36)</text>
<text class="b" x="515.7" y="834.9" textLength="12.9" lengthAdjust="spacingAndGlyphs">8.</text>
<text class="b" x="560.3" y="834.9" textLength="281.6" lengthAdjust="spacingAndGlyphs">Aanvullende gordijnairbags (P.64)</text>
<text class="b" x="515.7" y="861.8" textLength="12.9" lengthAdjust="spacingAndGlyphs">9.</text>
<text class="b" x="560.3" y="861.8" textLength="264.3" lengthAdjust="spacingAndGlyphs">Veiligheidsgordels achter (P.38)</text>
<text class="b" x="582.8" y="889.2" textLength="332.3" lengthAdjust="spacingAndGlyphs">Veiligheidsgordelspanners achter (P.46)</text>
<text class="b" x="970.4" y="143.7" textLength="20.1" lengthAdjust="spacingAndGlyphs">10.</text>
<text class="b" x="1015.3" y="143.7" textLength="283.0" lengthAdjust="spacingAndGlyphs">Aanvullende zijairbags voor (P.64)</text>
<text class="b" x="970.4" y="170.7" textLength="15.6" lengthAdjust="spacingAndGlyphs">11.</text>
<text class="b" x="1015.3" y="170.7" textLength="315.6" lengthAdjust="spacingAndGlyphs">Veiligheidsgordelspanners voor (P.46)</text>
<text class="b" x="970.4" y="197.9" textLength="19.1" lengthAdjust="spacingAndGlyphs">12.</text>
<text class="b" x="1015.3" y="197.9" textLength="169.6" lengthAdjust="spacingAndGlyphs">Achterstoelen (P.35)</text>
<text class="b" x="1037.5" y="225.0" textLength="149.2" lengthAdjust="spacingAndGlyphs">Kinderzitjes (P.48)</text>
<text class="b" x="970.4" y="251.8" textLength="19.1" lengthAdjust="spacingAndGlyphs">13.</text>
<text class="b" x="1015.3" y="251.8" textLength="285.3" lengthAdjust="spacingAndGlyphs">Inzittendedetectie achterin* (P.42)</text>
<text class="b" x="970.4" y="280.4" textLength="19.6" lengthAdjust="spacingAndGlyphs">14.</text>
<text class="b" x="1015.3" y="280.4" textLength="236.8" lengthAdjust="spacingAndGlyphs">ISOFIX-bevestigingssysteem</text>
<text class="b" x="1263.9" y="280.4" textLength="36.6" lengthAdjust="spacingAndGlyphs">voor</text>
<text class="b" x="1313.1" y="280.4" textLength="74.0" lengthAdjust="spacingAndGlyphs">kinderen</text>
<text class="b" x="1015.3" y="300.5" textLength="47.6" lengthAdjust="spacingAndGlyphs">(P.55)</text>
<text class="b" x="970.4" y="326.8" textLength="19.1" lengthAdjust="spacingAndGlyphs">15.</text>
<text class="b" x="1015.3" y="326.8" textLength="165.0" lengthAdjust="spacingAndGlyphs">Bevestigingspunten</text>
<text class="b" x="1191.0" y="326.8" textLength="36.9" lengthAdjust="spacingAndGlyphs">voor</text>
<text class="b" x="1239.2" y="326.8" textLength="94.7" lengthAdjust="spacingAndGlyphs">kinderzitjes</text>
<text class="b" x="1344.3" y="326.8" textLength="43.3" lengthAdjust="spacingAndGlyphs">(voor</text>
<text class="b" x="1015.3" y="347.6" textLength="195.8" lengthAdjust="spacingAndGlyphs">Top Tether-riem) (P.56)</text>
<text class="b" x="970.4" y="374.4" textLength="9.0" lengthAdjust="spacingAndGlyphs">*:</text>
<text class="b" x="1015.3" y="374.4" textLength="135.9" lengthAdjust="spacingAndGlyphs">indien aanwezig</text>
<text class="f" x="57.9" y="970.5" textLength="21.0" lengthAdjust="spacingAndGlyphs">16</text>
<text class="fb" x="101.6" y="970.5" textLength="146.0" lengthAdjust="spacingAndGlyphs">Geïllustreerde</text>
<text class="fb" x="255.2" y="970.5" textLength="163.6" lengthAdjust="spacingAndGlyphs">inhoudsopgave</text>
<g class="n" text-anchor="middle">
<text x="269.3" y="166.2">1</text>
<text x="302.8" y="166.2">2</text>
<text x="332.4" y="166.2">3</text>
<text x="410.4" y="166.2">4</text>
<text x="460.6" y="166.2">5</text>
<text x="476.4" y="166.2">6</text>
<text x="507.2" y="166.2">7</text>
<text x="545" y="166.2">8</text>
<text x="616.6" y="166.2">9</text>
<text x="430.2" y="672.4">10</text>
<text x="471.6" y="671">11</text>
<text x="564.6" y="671">12</text>
<text x="589.5" y="671">13</text>
<text x="681.5" y="671">14</text>
<text x="752.3" y="670">15</text>
</g>
<text class="m" x="866.6" y="680.5" textLength="60.4" lengthAdjust="spacingAndGlyphs">MNIC4092</text>
</svg>
</body></html>
